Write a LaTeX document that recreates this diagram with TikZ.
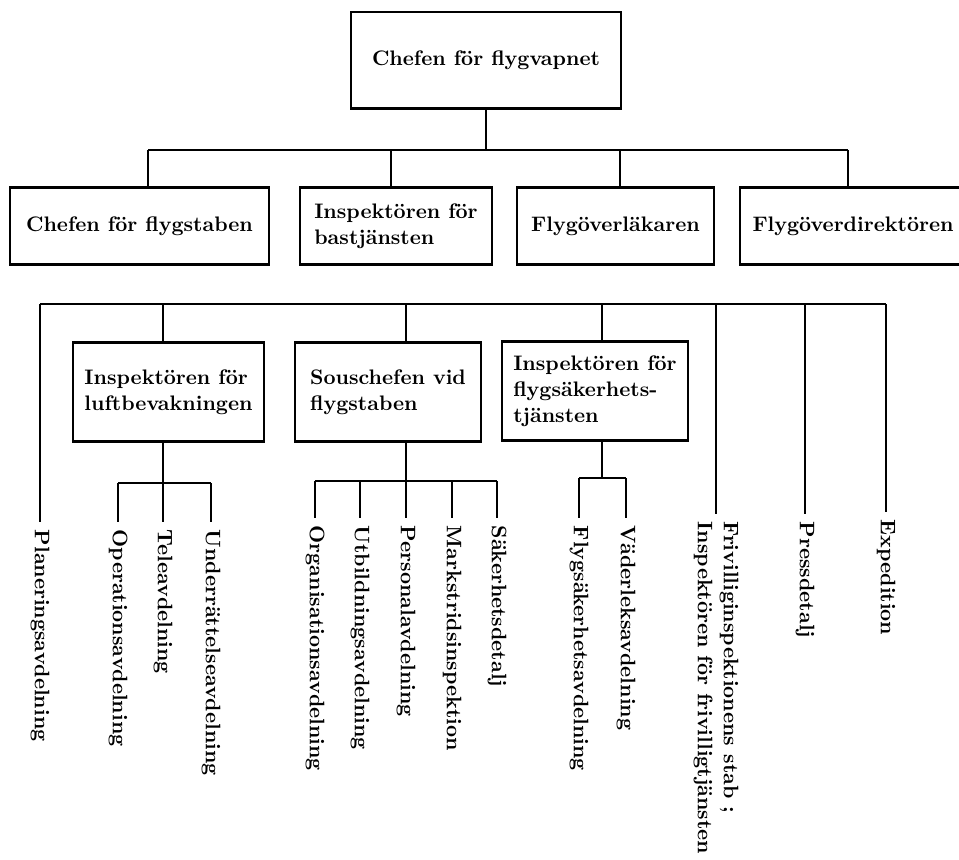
\documentclass[tikz,border=0pt]{standalone}
\usetikzlibrary{positioning}

\newcommand{\orgfont}{\fontsize{10.5}{13}\selectfont\bfseries}

\tikzset{
  box/.style={draw,line width=0.6pt,align=left,inner sep=0pt,font=\orgfont,
    append after command={(\tikzlastnode.north west) edge[line width=1.4pt] (\tikzlastnode.north east)
                          (\tikzlastnode.south west) edge[line width=1.4pt] (\tikzlastnode.south east)}},
  leaf/.style={rotate=-90,anchor=west,align=left,inner sep=3.5pt,font=\orgfont},
}

\begin{document}
\begin{tikzpicture}[x=0.5pt,y=-0.5pt,line width=0.8pt]
\useasboundingbox (0,0) rectangle (959,859);

% top
\node[box,minimum width=135pt,minimum height=47.5pt] (cfv) at (486,60) {Chefen för flygvapnet};

% second row
\node[box,minimum width=129.5pt,minimum height=38pt] (cfs) at (139.5,226) {Chefen för flygstaben};
\node[box,minimum width=96pt,minimum height=38pt] (ib) at (396,226) {Inspektören för\\bastjänsten};
\node[box,minimum width=98.5pt,minimum height=38pt] (fol) at (615.5,226) {Flygöverläkaren};
\node[box,minimum width=113pt,minimum height=38pt] (fod) at (853,226) {Flygöverdirektören};

\coordinate (r1w) at (148,150);
\coordinate (r1e) at (848,150);
\coordinate (d2) at (391,150);
\coordinate (d3) at (620,150);

\draw (cfv) -- (cfv |- r1w);
\draw (r1w) -- (r1e);
\draw (r1w) -- (r1w |- cfs.north);
\draw (d2) -- (d2 |- ib.north);
\draw (d3) -- (d3 |- fol.north);
\draw (r1e) -- (r1e |- fod.north);

% third row
\node[box,minimum width=95.5pt,minimum height=49pt] (il) at (168.5,392) {Inspektören för\\luftbevakningen};
\node[box,minimum width=93pt,minimum height=49pt] (sc) at (388,392) {Souschefen vid\\flygstaben};
\node[box,minimum width=93pt,minimum height=49pt] (ifs) at (595,391) {Inspektören för\\flygsäkerhets-\\tjänsten};

% leaves
\node[leaf] (plan) at (40,522) {Planeringsavdelning};
\node[leaf] (op) at (118,522) {Operationsavdelning};
\node[leaf] (tele) at (163,522) {Teleavdelning};
\node[leaf] (und) at (211,522) {Underrättelseavdelning};
\node[leaf] (org) at (315,518) {Organisationsavdelning};
\node[leaf] (utb) at (360,518) {Utbildningsavdelning};
\node[leaf] (pers) at (406,518) {Personalavdelning};
\node[leaf] (mark) at (452,518) {Markstridsinspektion};
\node[leaf] (sak) at (497,518) {Säkerhetsdetalj};
\node[leaf] (fsak) at (579,518) {Flygsäkerhetsavdelning};
\node[leaf] (vad) at (626,518) {Väderleksavdelning};
\node[leaf] (friv) at (716,514) {Frivilliginspektionens stab~;\\Inspektören för frivilligtjänsten};
\node[leaf] (press) at (805,514) {Pressdetalj};
\node[leaf] (exp) at (886,512) {Expedition};

\coordinate (r3w) at (40,304);
\coordinate (r3e) at (886,304);
\coordinate (s1) at (118,483);
\coordinate (s2) at (315,481);
\coordinate (s3) at (602,478);

\draw (r3w) -- (r3e);
\draw (r3w) -- (plan);
\draw (tele |- r3w) -- (tele |- il.north);
\draw (pers |- r3w) -- (pers |- sc.north);
\draw (s3 |- r3w) -- (s3 |- ifs.north);
\draw (friv.west |- r3w) -- (friv);
\draw (press.west |- r3w) -- (press);
\draw (r3e) -- (exp);

% luftbevakningen
\draw (tele |- il.south) -- (tele |- s1);
\draw (s1) -- (und |- s1);
\draw (s1) -- (op);
\draw (tele |- s1) -- (tele);
\draw (und |- s1) -- (und);

% flygstaben
\draw (pers |- sc.south) -- (pers |- s2);
\draw (s2) -- (sak |- s2);
\draw (s2) -- (org);
\draw (utb |- s2) -- (utb);
\draw (pers |- s2) -- (pers);
\draw (mark |- s2) -- (mark);
\draw (sak |- s2) -- (sak);

% flygsäkerhetstjänsten
\draw (s3 |- ifs.south) -- (s3);
\draw (fsak |- s3) -- (vad |- s3);
\draw (fsak |- s3) -- (fsak);
\draw (vad |- s3) -- (vad);
\end{tikzpicture}
\end{document}
